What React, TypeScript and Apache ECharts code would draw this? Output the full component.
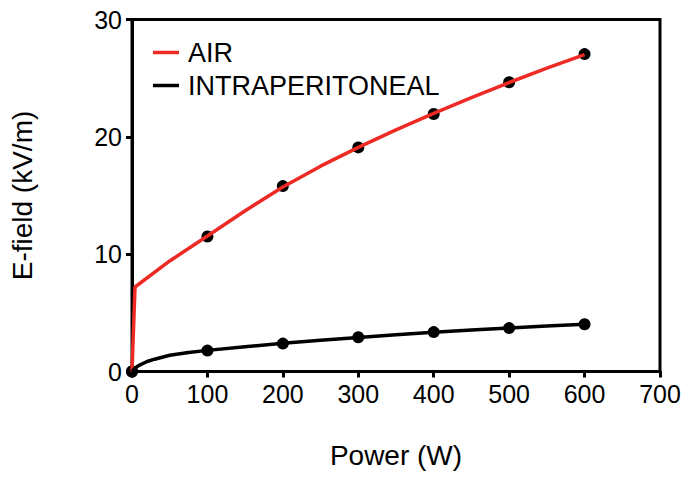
import React, { useEffect, useRef } from "react";
import * as echarts from "echarts";

// Measured points (Power W, E-field kV/m)
const powers = [0, 100, 200, 300, 400, 500, 600];
const airMeasured = [0, 11.5, 15.8, 19.1, 21.95, 24.65, 27.05];
const ipMeasured = [0, 1.78, 2.38, 2.92, 3.36, 3.7, 4.03];

// Fitted curves
const airFitX = [0, 4, 50, 100, 150, 200, 250, 300, 350, 400, 450, 500, 550, 600];
const airFitY = [0, 7.2, 9.42, 11.55, 13.7, 15.72, 17.5, 19.1, 20.6, 22.0, 23.35, 24.63, 25.85, 27.0];
const ipFitX = [0, 5, 10, 20, 30, 50, 75, 100, 150, 200, 250, 300, 350, 400, 450, 500, 550, 600];
const ipFitY = [0, 0.35, 0.55, 0.85, 1.05, 1.38, 1.62, 1.8, 2.1, 2.4, 2.66, 2.9, 3.13, 3.35, 3.53, 3.7, 3.87, 4.03];

const xTicks = { min: 0, max: 700, interval: 100 };
const yTicks = { min: 0, max: 30, interval: 10 };

const FONT = "Liberation Sans";

export default function App() {
  const ref = useRef<HTMLDivElement>(null);
  useEffect(() => {
    if (!ref.current) return;
    const chart = echarts.init(ref.current, undefined, { renderer: "svg" });
    const zip = (xs: number[], ys: number[]) => xs.map((x, i) => [x, ys[i]]);
    chart.setOption({
      animation: false,
      backgroundColor: "#fff",
      grid: {
        left: 129.5,
        right: 30,
        top: 19.5,
        bottom: 110.5,
        show: true,
        borderColor: "#000",
        borderWidth: 3,
        backgroundColor: "transparent",
      },
      legend: {
        left: 148,
        top: 34,
        orient: "vertical",
        itemGap: 6,
        itemWidth: 26,
        itemHeight: 3.5,
        icon: "rect",
        data: [
          { name: "AIR", itemStyle: { color: "#ee2a24" } },
          { name: "INTRAPERITONEAL", itemStyle: { color: "#000" } },
        ],
        textStyle: { fontFamily: FONT, fontSize: 27, color: "#000", padding: [0, 0, 0, 4] },
      },
      xAxis: {
        type: "value",
        ...xTicks,
        name: "Power (W)",
        nameLocation: "middle",
        nameGap: 70,
        nameTextStyle: { fontFamily: FONT, fontSize: 28, color: "#000" },
        axisLine: { show: true, lineStyle: { color: "#000", width: 3 } },
        axisTick: { show: true, length: 6, lineStyle: { color: "#000", width: 3 } },
        axisLabel: { fontFamily: FONT, fontSize: 25, color: "#000", margin: 10 },
        splitLine: { show: false },
      },
      yAxis: {
        type: "value",
        ...yTicks,
        name: "E-field (kV/m)",
        nameLocation: "middle",
        nameGap: 96,
        nameTextStyle: { fontFamily: FONT, fontSize: 28, color: "#000" },
        axisLine: { show: true, lineStyle: { color: "#000", width: 3 } },
        axisTick: { show: true, length: 6, lineStyle: { color: "#000", width: 3 } },
        axisLabel: { fontFamily: FONT, fontSize: 25, color: "#000", margin: 10 },
        splitLine: { show: false },
      },
      series: [
        {
          name: "AIR",
          type: "line",
          data: zip(airFitX, airFitY),
          showSymbol: false,
          symbol: "none",
          lineStyle: { color: "#ee2a24", width: 3.5 },
          itemStyle: { color: "#ee2a24" },
          z: 3,
        },
        {
          name: "INTRAPERITONEAL",
          type: "line",
          data: zip(ipFitX, ipFitY),
          showSymbol: false,
          symbol: "none",
          lineStyle: { color: "#000", width: 3.5 },
          itemStyle: { color: "#000" },
          z: 3,
        },
        {
          name: "AIR data",
          type: "scatter",
          data: zip(powers, airMeasured),
          symbol: "circle",
          symbolSize: 12,
          itemStyle: { color: "#000", opacity: 1 },
          z: 2,
        },
        {
          name: "IP data",
          type: "scatter",
          data: zip(powers, ipMeasured),
          symbol: "circle",
          symbolSize: 12,
          itemStyle: { color: "#000", opacity: 1 },
          z: 2,
        },
      ],
    });
    return () => chart.dispose();
  }, []);
  return (
    <div
      ref={ref}
      style={{ position: "fixed", left: 0, top: 0, width: 690, height: 482 }}
    />
  );
}
